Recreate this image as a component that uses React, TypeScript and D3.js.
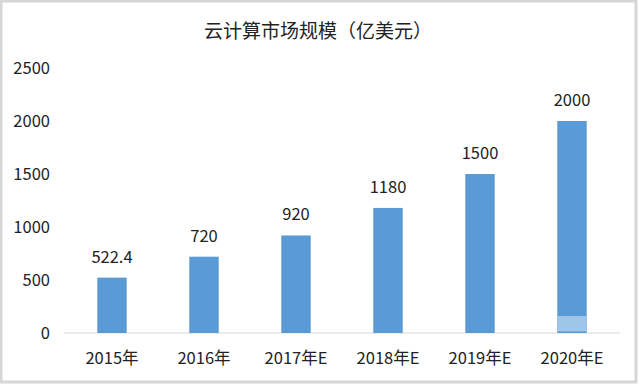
import { useRef, useEffect } from "react";
import { select, scaleLinear, scaleBand, axisLeft } from "d3";

const categories = ["2015年", "2016年", "2017年E", "2018年E", "2019年E", "2020年E"];
const values = [522.4, 720, 920, 1180, 1500, 2000];
const yTicks = [0, 500, 1000, 1500, 2000, 2500];

const W = 640;
const H = 385;
const FONT = "'Noto Sans CJK SC', 'Noto Sans', sans-serif";

export default function App() {
  const svgRef = useRef<SVGSVGElement | null>(null);

  useEffect(() => {
    const svg = select(svgRef.current);
    svg.selectAll("*").remove();

    // frame
    svg
      .append("rect")
      .attr("x", 1)
      .attr("y", 1)
      .attr("width", W - 5)
      .attr("height", H - 4)
      .attr("fill", "#fff")
      .attr("stroke", "#d6d6d6")
      .attr("stroke-width", 3);

    // Scales
    const x = scaleBand()
      .domain(categories)
      .range([66, 618])
      .paddingInner(0.68)
      .paddingOuter(0.34);
    const y = scaleLinear().domain([0, 2500]).range([333, 68]);

    // title
    svg
      .append("text")
      .attr("x", 318)
      .attr("y", 38)
      .attr("text-anchor", "middle")
      .attr("font-family", FONT)
      .attr("font-size", 19)
      .attr("fill", "#222")
      .text("云计算市场规模（亿美元）");

    // y axis labels
    const yAxis = axisLeft(y)
      .tickValues(yTicks)
      .tickFormat((d) => String(d))
      .tickSize(0)
      .tickPadding(0);
    const ga = svg
      .append("g")
      .attr("transform", "translate(50,0)")
      .call(yAxis);
    ga.select(".domain").remove();
    ga.selectAll("text")
      .attr("font-family", FONT)
      .attr("font-size", 16.5)
      .attr("fill", "#222");

    // baseline
    svg
      .append("line")
      .attr("x1", 64)
      .attr("x2", 620)
      .attr("y1", y(0))
      .attr("y2", y(0))
      .attr("stroke", "#d9d9d9")
      .attr("stroke-width", 1);

    // bars
    svg
      .selectAll(".bar")
      .data(values)
      .join("rect")
      .attr("class", "bar")
      .attr("x", (_, i) => x(categories[i])!)
      .attr("y", (d) => y(d))
      .attr("width", x.bandwidth())
      .attr("height", (d) => y(0) - y(d))
      .attr("fill", "#5b9bd5");

    // light patch at bottom of last bar (as in the source image)
    const last = categories[categories.length - 1];
    svg
      .append("rect")
      .attr("x", x(last)!)
      .attr("y", y(160))
      .attr("width", x.bandwidth())
      .attr("height", y(15) - y(160))
      .attr("fill", "#9fc5ea");

    // value labels
    svg
      .selectAll(".val")
      .data(values)
      .join("text")
      .attr("class", "val")
      .attr("x", (_, i) => x(categories[i])! + x.bandwidth() / 2)
      .attr("y", (d) => y(d) - 15)
      .attr("text-anchor", "middle")
      .attr("font-family", FONT)
      .attr("font-size", 16.5)
      .attr("fill", "#222")
      .text((d) => String(d));

    // category labels
    svg
      .selectAll(".cat")
      .data(categories)
      .join("text")
      .attr("class", "cat")
      .attr("x", (d) => x(d)! + x.bandwidth() / 2)
      .attr("y", 364)
      .attr("text-anchor", "middle")
      .attr("font-family", FONT)
      .attr("font-size", 16.5)
      .attr("fill", "#222")
      .text((d) => d);
  }, []);

  return (
    <svg
      ref={svgRef}
      width={W}
      height={H}
      style={{ position: "absolute", left: 0, top: 0, background: "#fff" }}
    />
  );
}
